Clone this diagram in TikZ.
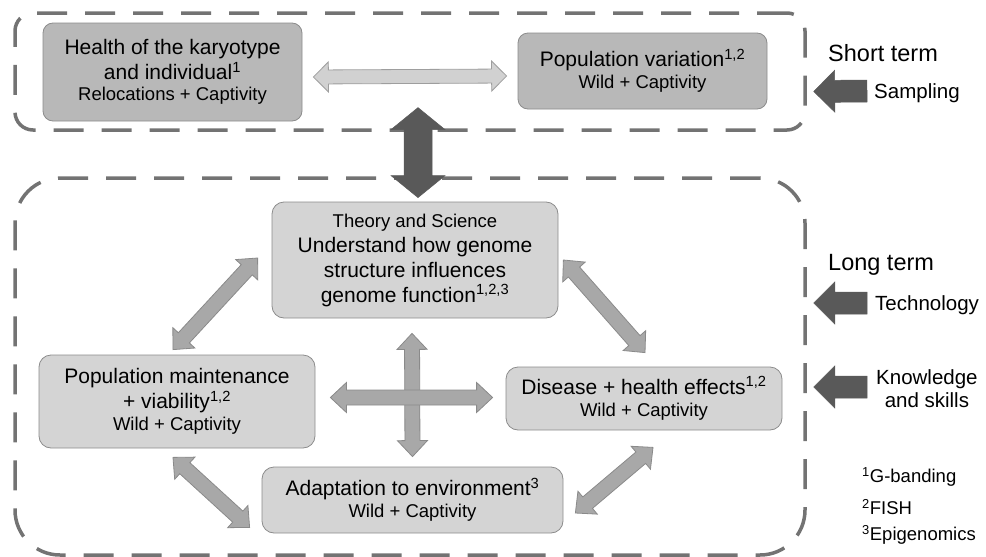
\documentclass[tikz,border=0pt]{standalone}
\usepackage{fontspec}
\setmainfont{Liberation Sans}
\usetikzlibrary{calc}

\definecolor{termgray}{gray}{0.45}
\definecolor{boxline}{gray}{0.55}
\definecolor{topfill}{gray}{0.72}
\definecolor{lowfill}{gray}{0.83}
\definecolor{lightfill}{gray}{0.82}
\definecolor{lightline}{gray}{0.62}
\definecolor{midfill}{gray}{0.66}
\definecolor{midline}{gray}{0.54}
\definecolor{darkfill}{gray}{0.35}

\newcommand\boxfont{\fontsize{21}{25}\selectfont}
\newcommand\subfont{\fontsize{18.5}{21}\selectfont}
\newcommand\termfont{\fontsize{23.5}{28}\selectfont}
\newcommand\labfont{\fontsize{20.5}{23}\selectfont}

% fat double headed arrow from #2 to #3
\newcommand\dblarrow[3][]{%
  \draw[#1] (#2) -- ($(#2)!\fatl!(#3)!\fath!90:(#3)$) -- ($(#2)!\fatl!(#3)!\fatw!90:(#3)$)
    -- ($(#3)!\fatl!(#2)!\fatw!-90:(#2)$) -- ($(#3)!\fatl!(#2)!\fath!-90:(#2)$)
    -- (#3) -- ($(#3)!\fatl!(#2)!\fath!90:(#2)$) -- ($(#3)!\fatl!(#2)!\fatw!90:(#2)$)
    -- ($(#2)!\fatl!(#3)!\fatw!-90:(#3)$) -- ($(#2)!\fatl!(#3)!\fath!-90:(#3)$) -- cycle;}
% fat single arrow, tail #2, tip #3
\newcommand\onearrow[3][]{%
  \draw[#1] ($(#2)!\fatw!90:(#3)$) -- ($(#3)!\fatl!(#2)!\fatw!-90:(#2)$)
    -- ($(#3)!\fatl!(#2)!\fath!-90:(#2)$) -- (#3) -- ($(#3)!\fatl!(#2)!\fath!90:(#2)$)
    -- ($(#3)!\fatl!(#2)!\fatw!90:(#2)$) -- ($(#2)!\fatw!-90:(#3)$) -- cycle;}

\tikzset{
  arrowsize/.code args={#1/#2/#3}{\def\fatw{#1}\def\fath{#2}\def\fatl{#3}},
  termbox/.style={draw=termgray, line width=3.5pt, dash pattern=on 30pt off 18pt},
  topbox/.style={draw=boxline, line width=0.8pt, fill=topfill, rounded corners=10pt,
    align=center, font=\boxfont, inner sep=0pt},
  lowbox/.style={topbox, fill=lowfill, rounded corners=12pt},
  lightarrow/.style={draw=lightline, fill=lightfill, line width=0.8pt, arrowsize=7pt/15pt/15pt},
  midarrow/.style={draw=midline, fill=midfill, line width=0.8pt, arrowsize=7.5pt/15pt/16pt},
  darkarrow/.style={draw=darkfill, fill=darkfill, line width=0.5pt, arrowsize=14pt/27pt/22pt},
  sidearrow/.style={darkarrow, arrowsize=11pt/21pt/21pt},
  label/.style={anchor=west, inner sep=0pt, font=\labfont},
}

\begin{document}
\begin{tikzpicture}[x=1pt, y=-1pt]
\useasboundingbox (0,0) rectangle (986,557);

% short and long term frames
\node[termbox, rounded corners=18pt, minimum width=790pt, minimum height=117pt] (shortterm) at (410,71.5) {};
\node[termbox, rounded corners=45pt, minimum width=790pt, minimum height=377pt] (longterm) at (410,366.5) {};

% boxes
\node[topbox, minimum width=259pt, minimum height=98pt] (health) at (172.5,72)
  {Health of the karyotype\\ and individual\textsuperscript{1}\\[-4pt] {\subfont Relocations + Captivity}};
\node[topbox, minimum width=249pt, minimum height=76pt] (popvar) at (642.5,71)
  {Population variation\textsuperscript{1,2}\\[-3pt] {\subfont Wild + Captivity}};
\node[lowbox, minimum width=286pt, minimum height=116pt] (theory) at (415,260)
  {{\subfont Theory and Science}\\ Understand how genome\\ structure influences\\ genome function\textsuperscript{1,2,3}};
\node[lowbox, minimum width=276pt, minimum height=93pt] (popmaint) at (177,401.5)
  {Population maintenance\\ + viability\textsuperscript{1,2}\\[-3pt] {\subfont Wild + Captivity}};
\node[lowbox, minimum width=276pt, minimum height=63pt] (disease) at (644,398.5)
  {Disease + health effects\textsuperscript{1,2}\\[-3pt] {\subfont Wild + Captivity}};
\node[lowbox, minimum width=301pt, minimum height=66pt] (adapt) at (412.5,500)
  {Adaptation to environment\textsuperscript{3}\\[-3pt] {\subfont Wild + Captivity}};

% labels on the right
\node[label, font=\termfont] (short) at (828,53) {Short term};
\node[label] (sampling) at (874,93) {Sampling};
\node[label, font=\termfont] (long) at (828,265) {Long term};
\node[label] (technology) at (875,305) {Technology};
\node[label, align=center] (knowledge) at (876,389) {Knowledge\\ and skills};
\node[label, font=\subfont] (fn1) at (862,477) {\textsuperscript{1}G-banding};
\node[label, font=\subfont] (fn2) at (862,507) {\textsuperscript{2}FISH};
\node[label, font=\subfont] (fn3) at (862,535) {\textsuperscript{3}Epigenomics};

% arrows
\dblarrow[lightarrow]{[shift={(11,5)}]health.east}{[shift={(-11,5)}]popvar.west}
\dblarrow[darkarrow]{[shift={(3,-94)}]theory.north}{[shift={(3,-4)}]theory.north}
\dblarrow[midarrow]{[shift={(-3,15)}]theory.south}{[shift={(0,-10)}]adapt.north}
\dblarrow[midarrow]{[shift={(15,-4)}]popmaint.east}{[shift={(-13,-1)}]disease.west}
\dblarrow[midarrow]{[shift={(-4,-5)}]popmaint.north}{[shift={(-14,-2)}]theory.west}
\dblarrow[midarrow]{[shift={(5,0)}]theory.east}{[shift={(1,-14)}]disease.north}
\dblarrow[midarrow]{[shift={(-4,9)}]popmaint.south}{[shift={(-12,-6)}]adapt.south west}
\dblarrow[midarrow]{[shift={(9,17)}]disease.south}{[shift={(12,13)}]adapt.east}

\onearrow[sidearrow]{[shift={(-7,-2)}]sampling.west}{[shift={(7,20)}]shortterm.east}
\onearrow[sidearrow]{[shift={(-8,-2)}]technology.west}{[shift={(7,-63.5)}]longterm.east}
\onearrow[sidearrow]{[shift={(-9,-2)}]knowledge.west}{[shift={(7,20.5)}]longterm.east}

\end{tikzpicture}
\end{document}
